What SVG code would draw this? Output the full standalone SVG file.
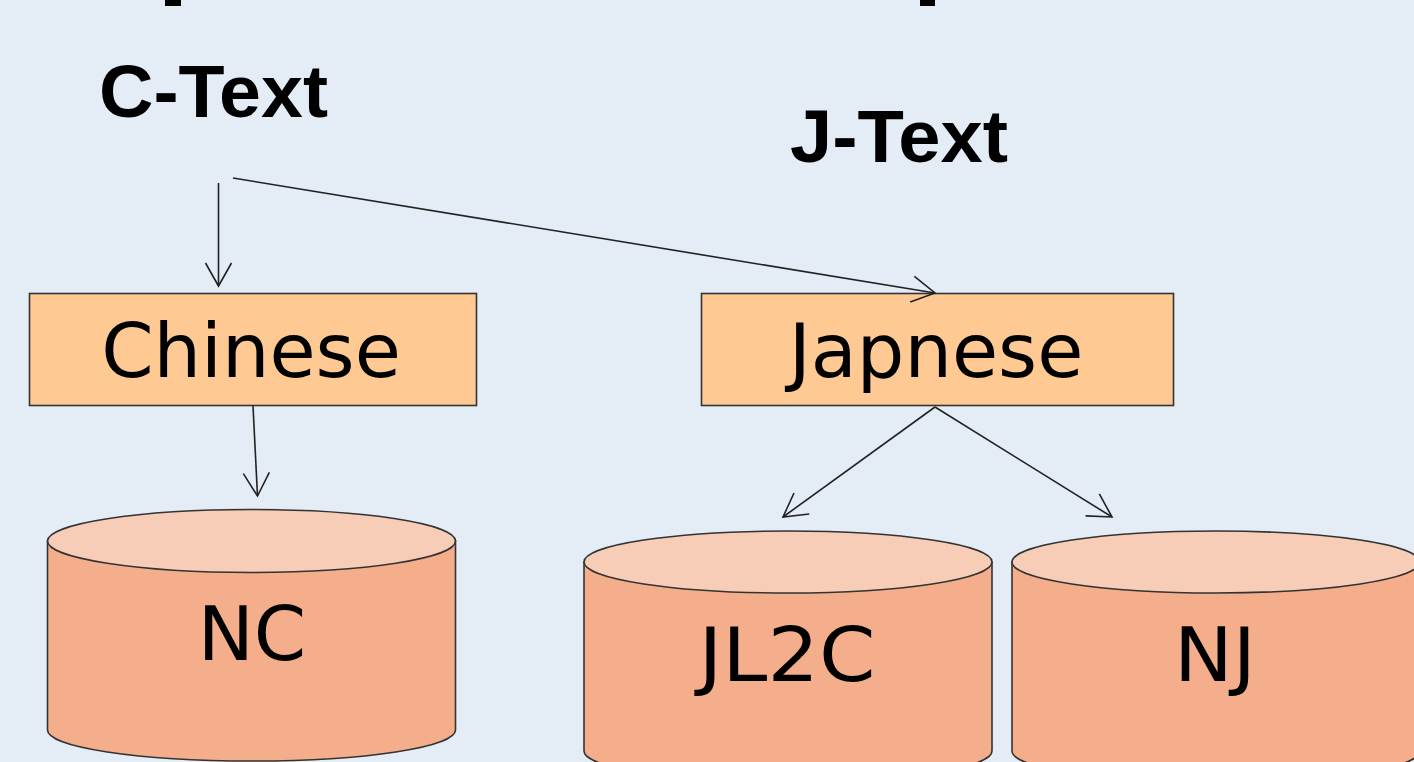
<svg xmlns="http://www.w3.org/2000/svg" width="1414" height="762" viewBox="0 0 1414 762">
  <style>
    .title { font-family: "Liberation Sans", Arial, sans-serif; font-weight: bold; font-size: 75px; fill: #000; }
    .label { font-family: "DejaVu Sans", Verdana, sans-serif; font-size: 75px; fill: #000; text-anchor: middle; }
    .box { fill: #FFC993; stroke: #333; stroke-width: 1.6; }
    .side { fill: #F5AE8C; stroke: #333; stroke-width: 1.6; }
    .top { fill: #F7CDB8; stroke: #333; stroke-width: 1.6; }
    .conn { fill: none; stroke: #222; stroke-width: 1.6; marker-end: url(#arr); }
  </style>
  <defs>
    <marker id="arr" markerUnits="userSpaceOnUse" markerWidth="40" markerHeight="40" viewBox="-30 -20 40 40" refX="0" refY="0" orient="auto" overflow="visible">
      <path d="M-23,-13 L0,0 L-23,13" fill="none" stroke="#222" stroke-width="1.6"/>
    </marker>
  </defs>
  <rect x="0" y="0" width="1414" height="762" fill="#E4ECF5"/>
  <rect x="165" y="0" width="16" height="6" fill="#000"/>
  <rect x="920" y="0" width="15" height="6" fill="#000"/>

  <g id="c-text"><text class="title" x="99" y="117" textLength="229" lengthAdjust="spacingAndGlyphs">C-Text</text></g>
  <g id="j-text"><text class="title" x="790" y="162" textLength="218" lengthAdjust="spacingAndGlyphs">J-Text</text></g>

  <g id="chinese">
    <rect class="box" x="29.5" y="293.5" width="447" height="112"/>
    <text class="label" x="251" y="377">Chinese</text>
  </g>
  <g id="japnese">
    <rect class="box" x="701.5" y="293.5" width="472" height="112"/>
    <text class="label" x="936" y="377">Japnese</text>
  </g>

  <g id="nc">
    <path class="side" d="M47.5,541 L47.5,730 A204,31 0 0 0 455.5,730 L455.5,541 Z"/>
    <ellipse class="top" cx="251.5" cy="541" rx="204" ry="31.5"/>
    <text class="label" x="252" y="660">NC</text>
  </g>
  <g id="jl2c">
    <path class="side" d="M584,562 L584,751 A204,31 0 0 0 992,751 L992,562 Z"/>
    <ellipse class="top" cx="788" cy="562" rx="204" ry="31"/>
    <text class="label" x="787" y="681" textLength="177" lengthAdjust="spacingAndGlyphs">JL2C</text>
  </g>
  <g id="nj">
    <path class="side" d="M1012,562 L1012,751 A204,31 0 0 0 1420,751 L1420,562 Z"/>
    <ellipse class="top" cx="1216" cy="562" rx="204" ry="31"/>
    <text class="label" x="1215" y="681" textLength="82" lengthAdjust="spacingAndGlyphs">NJ</text>
  </g>

  <g id="connectors">
    <line class="conn" x1="218.5" y1="183" x2="218.5" y2="286"/>
    <line class="conn" x1="233" y1="178" x2="935" y2="293"/>
    <line class="conn" x1="253" y1="406" x2="257.5" y2="496"/>
    <line class="conn" x1="935" y1="407" x2="783" y2="517"/>
    <line class="conn" x1="935" y1="407" x2="1112" y2="517"/>
  </g>
</svg>
